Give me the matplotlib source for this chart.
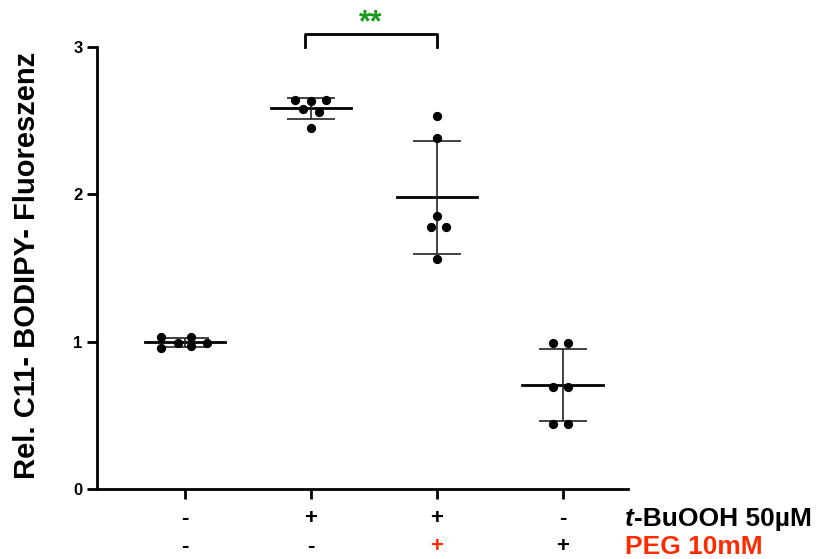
import numpy as np
import matplotlib.pyplot as plt
from matplotlib.transforms import blended_transform_factory

plt.rcParams['font.family'] = ['Liberation Sans', 'DejaVu Sans']
plt.rcParams['font.weight'] = 'bold'

# data
groups = ['ctrl', 'tBuOOH', 'tBuOOH+PEG', 'PEG']
ctrl = [1.03, 0.96, 0.99, 1.03, 0.97, 0.99]
tbuooh = [2.64, 2.63, 2.64, 2.58, 2.56, 2.45]
tbuooh_peg = [2.53, 2.38, 1.85, 1.78, 1.78, 1.56]
peg = [0.99, 0.99, 0.69, 0.69, 0.44, 0.44]
all_values = [ctrl, tbuooh, tbuooh_peg, peg]

row1_labels = ['-', '+', '+', '-']
row2_labels = ['-', '-', '+', '+']
row2_colors = ['black', 'black', '#ff2a00', 'black']
sig_text = '**'

fig = plt.figure(figsize=(8.18, 5.59), dpi=100)
ax = fig.add_axes([0.1186, 0.1252, 0.6494, 0.7908])

# horizontal jitter for the dots (columns of a scatter dot plot)
jitter = [
    [-0.19, -0.19, -0.06, 0.05, 0.05, 0.17],
    [-0.13, 0.0, 0.12, -0.06, 0.06, 0.0],
    [0.0, 0.0, 0.0, -0.05, 0.07, 0.0],
    [-0.08, 0.04, -0.08, 0.04, -0.08, 0.04],
]

for i, vals in enumerate(all_values):
    vals = np.array(vals)
    m = vals.mean()
    sd = vals.std(ddof=1)
    ax.scatter(i + np.array(jitter[i]), vals, s=32, color='black', zorder=3,
               clip_on=False)
    ax.plot([i - 0.32, i + 0.32], [m, m], color='black', lw=2, zorder=2)
    ax.errorbar(i, m, yerr=sd, fmt='none', ecolor='#222222', elinewidth=1.2,
                capsize=17, capthick=1.2, zorder=2)

ax.set_xlim(-0.7, 3.52)
ax.set_ylim(0, 3)
ax.set_yticks([0, 1, 2, 3])
ax.set_xticks(range(len(groups)))
ax.set_xticklabels([])
ax.tick_params(axis='both', width=2, length=7, labelsize=12)
for lab in ax.get_yticklabels():
    lab.set_fontweight('bold')
for s in ['top', 'right']:
    ax.spines[s].set_visible(False)
for s in ['left', 'bottom']:
    ax.spines[s].set_linewidth(2)

ax.set_ylabel('Rel. C11- BODIPY- Fluoreszenz', fontsize=21, fontweight='bold')
ax.yaxis.set_label_coords(-0.105, 0.505)

trans = blended_transform_factory(ax.transData, ax.transAxes)
for i in range(len(groups)):
    ax.text(i, -0.066, row1_labels[i], transform=trans, ha='center',
            va='center', fontsize=16, fontweight='bold')
    ax.text(i, -0.131, row2_labels[i], transform=trans, ha='center',
            va='center', fontsize=16, fontweight='bold', color=row2_colors[i])

# row names on the right
t_txt = fig.text(0.764, 0.059, 't', fontsize=19, fontweight='bold',
                 style='italic', va='baseline', ha='left')
fig.canvas.draw()
bb = t_txt.get_window_extent().transformed(fig.transFigure.inverted())
fig.text(bb.x1, 0.059, '-BuOOH 50µM', fontsize=19, fontweight='bold',
         va='baseline', ha='left')
fig.text(0.764, 0.009, 'PEG 10mM', fontsize=19, fontweight='bold',
         color='#ff2a00', va='baseline', ha='left')

# significance bracket
ax.plot([0.95, 0.95, 2.0, 2.0], [3.0, 3.09, 3.09, 3.0], color='black', lw=2,
        clip_on=False)
ax.text(1.475, 3.06, sig_text, color='#1a9a1a', fontsize=22, fontweight='bold',
        ha='center', va='bottom')

fig.savefig('out.png', dpi=100)
